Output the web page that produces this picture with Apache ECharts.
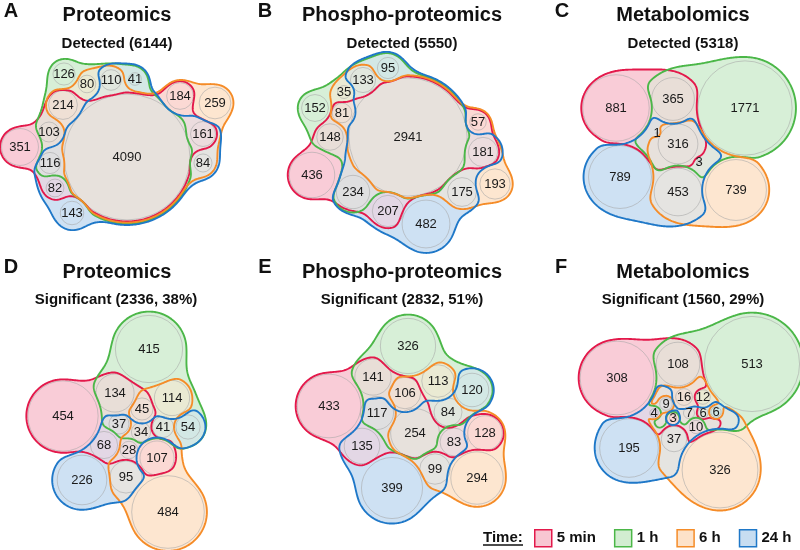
<!DOCTYPE html>
<html>
<head>
<meta charset="utf-8">
<script src="https://cdn.jsdelivr.net/npm/echarts@6/dist/echarts.min.js"></script>
<style>
html,body{margin:0;padding:0;background:#ffffff;}
#chart{width:800px;height:550px;}
</style>
</head>
<body>
<div id="chart"></div>
<script>
// ================= DATA =================
const SET_NAMES = ['5 min', '1 h', '6 h', '24 h'];
const SET_CODES = ['R', 'G', 'O', 'B']; // R = 5 min, G = 1 h, O = 6 h, B = 24 h

const PANEL_LETTERS = ['A', 'B', 'C', 'D', 'E', 'F'];
const PANEL_TITLES = ['Proteomics', 'Phospho-proteomics', 'Metabolomics', 'Proteomics', 'Phospho-proteomics', 'Metabolomics'];
const PANEL_SUBTITLES = ['Detected (6144)', 'Detected (5550)', 'Detected (5318)',
  'Significant (2336, 38%)', 'Significant (2832, 51%)', 'Significant (1560, 29%)'];

// region counts and the time points each region belongs to
const countsA = [4090, 351, 103, 116, 214, 126, 80, 110, 41, 184, 259, 161, 84, 82, 143];
const setsA   = ['RGOB','R','RG','RGB','RGO','G','GO','GOB','GB','RO','O','ROB','OB','RB','B'];

const countsB = [2941, 95, 133, 35, 152, 81, 148, 436, 234, 207, 482, 175, 193, 181, 57];
const setsB   = ['RGOB','GB','GOB','GO','G','RGO','RG','R','RGB','RB','B','OB','O','ROB','RO'];

const countsC = [881, 365, 1771, 316, 789, 453, 739, 1, 3];
const setsC   = ['R','RG','G','RGOB','B','OB','O','RGB','GOB'];

const countsD = [415, 134, 454, 45, 114, 37, 34, 41, 54, 68, 28, 107, 226, 95, 484];
const setsD   = ['G','RG','R','RGO','GO','RGB','RGOB','GOB','GB','RB','ROB','RO','B','OB','O'];

const countsE = [326, 141, 433, 106, 113, 120, 117, 84, 254, 83, 128, 135, 99, 294, 399];
const setsE   = ['G','RG','R','RGO','GO','GB','RGB','GOB','RGOB','ROB','RO','RB','OB','O','B'];

const countsF = [308, 108, 513, 16, 12, 9, 4, 7, 6, 6, 3, 10, 195, 37, 326];
const setsF   = ['R','RG','G','RGO','GO','RGB','RB','RGOB','GOB','GB','RO','ROB','B','OB','O'];

// ================= LAYOUT (positions in chart units) =================
const posA = [[127,157],[20,147],[49,132],[50,163],[63,105],[64,74],[87,84],[111,80],[135,79],[180,96],[215,103],[203,134],[203,163],[55,188],[72,213]];
const posB = [[408,137],[388,68],[363,80],[344,92],[315,108],[342,113],[330,137],[312,175],[353,192],[388,211],[426,224],[462,192],[495,184],[483,152],[478,122]];
const posC = [[616,108],[673,99],[745,108],[678,144],[620,177],[678,192],[736,190],[657,133],[699,162]];
const posD = [[149,349],[115,393],[63,416],[142,409],[172,398],[119,424],[141,432],[163,427],[188,427],[104,445],[129,450],[157,458],[82,480],[126,477],[168,512]];
const posE = [[408,346],[373,377],[329,406],[405,393],[438,381],[472,390],[377,413],[448,412],[415,433],[454,442],[485,433],[362,446],[435,469],[477,478],[392,488]];
const posF = [[617,378],[678,364],[752,364],[684,397],[703,397],[666,404],[654,413],[689,413],[703,413],[716,412],[673,418],[696,427],[629,448],[674,439],[720,470]];

const PANEL_SCALE = [0.985, 1.09, 1.12, 1.65, 1.53, 2.1];   // radius = scale * sqrt(count)
const PANEL_SMOOTH = [26, 26, 62, 32, 30, 52];
const TITLE_X = [117, 402, 683, 117, 402, 683];
const LETTER_X = [11, 265, 562, 11, 265, 561];

// ================= STYLE =================
const SET_COLORS = ['#E3194B', '#4BB748', '#F58C28', '#1F78C8'];
const PAD_IN  = [1.5, 3.8, 2.6, 5.0];
const PAD_OUT = [1.0, 2.6, 1.8, 3.4];
const EXCL_SMOOTH = 9;
const FONT = '"Liberation Sans", Arial, Helvetica, sans-serif';

const panels = [
  {counts: countsA, sets: setsA, pos: posA},
  {counts: countsB, sets: setsB, pos: posB},
  {counts: countsC, sets: setsC, pos: posC},
  {counts: countsD, sets: setsD, pos: posD},
  {counts: countsE, sets: setsE, pos: posE},
  {counts: countsF, sets: setsF, pos: posF}
];

function hexRgb(h) { return [parseInt(h.slice(1,3),16), parseInt(h.slice(3,5),16), parseInt(h.slice(5,7),16)]; }
function maskColor(mask, a) {
  let r = 0, g = 0, b = 0, n = 0;
  for (let s = 0; s < 4; s++) if ((mask >> s) & 1) { const c = hexRgb(SET_COLORS[s]); r += c[0]; g += c[1]; b += c[2]; n++; }
  r /= n; g /= n; b /= n;
  return 'rgb(' + Math.round(255*(1-a)+a*r) + ',' + Math.round(255*(1-a)+a*g) + ',' + Math.round(255*(1-a)+a*b) + ')';
}

function smin(a, b, k) { const h = Math.max(k - Math.abs(a - b), 0) / k; return Math.min(a, b) - h*h*k*0.25; }

function contour(vals, nx, ny, x0, y0, h) {
  const N = nx*ny, ins = new Uint8Array(N);
  for (let q = 0; q < N; q++) ins[q] = vals[q] < 0 ? 1 : 0;
  const next = new Map(), pts = new Map();
  function pt(i1, j1, i2, j2, key) {
    if (!pts.has(key)) {
      const a = vals[j1*nx+i1], b = vals[j2*nx+i2]; const t = a/(a-b);
      pts.set(key, [x0 + h*(i1 + t*(i2-i1)), y0 + h*(j1 + t*(j2-j1))]);
    }
    return key;
  }
  const L = [];
  for (let j = 0; j < ny-1; j++) for (let i = 0; i < nx-1; i++) {
    const a = ins[j*nx+i], b = ins[j*nx+i+1], c = ins[(j+1)*nx+i+1], d = ins[(j+1)*nx+i];
    const s = a+b+c+d; if (s === 0 || s === 4) continue;
    L.length = 0;
    if (a !== b) L.push([pt(i,j,i+1,j,(j*nx+i)*2), a === 1]);
    if (b !== c) L.push([pt(i+1,j,i+1,j+1,(j*nx+i+1)*2+1), b === 1]);
    if (c !== d) L.push([pt(i+1,j+1,i,j+1,((j+1)*nx+i)*2), c === 1]);
    if (d !== a) L.push([pt(i,j+1,i,j,(j*nx+i)*2+1), d === 1]);
    for (let k = 0; k < L.length; k++) if (L[k][1]) next.set(L[k][0], L[(k+1) % L.length][0]);
  }
  const loops = [], seen = new Set();
  for (const st of next.keys()) {
    if (seen.has(st)) continue;
    const loop = []; let cur = st;
    while (cur !== undefined && !seen.has(cur)) { seen.add(cur); loop.push(pts.get(cur)); cur = next.get(cur); }
    if (loop.length > 3) loops.push(loop);
  }
  return loops;
}

// build blobs and regions for every panel
const regionItems = [];   // {loops, color}
const strokeItems = [[], [], [], []];
const circleData = [];
panels.forEach((p, pi) => {
  const k = PANEL_SCALE[pi], K = PANEL_SMOOTH[pi];
  const circles = p.counts.map((c, i) => ({x: p.pos[i][0], y: p.pos[i][1], r: k*Math.sqrt(c), m: p.sets[i]}));
  p.counts.forEach((c, i) => circleData.push([p.pos[i][0], p.pos[i][1], c, pi]));
  let x0 = Infinity, y0 = Infinity, x1 = -Infinity, y1 = -Infinity;
  circles.forEach(c => { x0 = Math.min(x0, c.x-c.r); y0 = Math.min(y0, c.y-c.r); x1 = Math.max(x1, c.x+c.r); y1 = Math.max(y1, c.y+c.r); });
  x0 -= 30; y0 -= 30; x1 += 30; y1 += 30;
  const h = 1, nx = Math.ceil((x1-x0)/h)+1, ny = Math.ceil((y1-y0)/h)+1;
  const F = SET_CODES.map((code, si) => {
    const mem = circles.filter(c => c.m.indexOf(code) >= 0), non = circles.filter(c => c.m.indexOf(code) < 0);
    const arr = new Float32Array(nx*ny);
    for (let j = 0; j < ny; j++) for (let i = 0; i < nx; i++) {
      const x = x0 + i*h, y = y0 + j*h;
      let u = 1e9;
      for (const c of mem) { const d = Math.hypot(x-c.x, y-c.y) - c.r - PAD_IN[si]; u = smin(u, d, K); }
      for (const c of non) { const e = PAD_OUT[si] - (Math.hypot(x-c.x, y-c.y) - c.r); u = -smin(-u, -e, EXCL_SMOOTH); }
      if (i === 0 || j === 0 || i === nx-1 || j === ny-1) u = Math.max(u, 1);
      arr[j*nx+i] = u;
    }
    return arr;
  });
  F.forEach((arr, si) => strokeItems[si].push(contour(arr, nx, ny, x0, y0, h)));
  for (let mask = 1; mask < 16; mask++) {
    const arr = new Float32Array(nx*ny); let any = false;
    for (let q = 0; q < nx*ny; q++) {
      let v = -Infinity;
      for (let s = 0; s < 4; s++) { const t = ((mask >> s) & 1) ? F[s][q] : -F[s][q]; if (t > v) v = t; }
      arr[q] = v; if (v < 0) any = true;
    }
    if (any) regionItems.push({loops: contour(arr, nx, ny, x0, y0, h), color: maskColor(mask, 0.22)});
  }
});

function loopsPath(loops, api) {
  let s = '';
  for (const l of loops) {
    for (let i = 0; i < l.length; i++) { const c = api.coord(l[i]); s += (i ? 'L' : 'M') + c[0].toFixed(2) + ' ' + c[1].toFixed(2); }
    s += 'Z';
  }
  return s;
}

const chart = echarts.init(document.getElementById('chart'), null, {renderer: 'canvas'});

const series = [];
series.push({
  type: 'custom', name: 'regions', coordinateSystem: 'cartesian2d', z: 1, silent: true,
  data: regionItems.map((r, i) => [0, 0, i]),
  renderItem: function (params, api) {
    const it = regionItems[params.dataIndex];
    return {type: 'path', shape: {pathData: loopsPath(it.loops, api)},
      style: {fill: it.color, stroke: it.color, lineWidth: 0.6}};
  }
});
series.push({
  type: 'custom', name: 'circles', coordinateSystem: 'cartesian2d', z: 2, silent: true,
  data: circleData,
  renderItem: function (params, api) {
    const pi = api.value(3);
    const r = PANEL_SCALE[pi] * Math.sqrt(api.value(2));
    const c = api.coord([api.value(0), api.value(1)]);
    return {type: 'circle', shape: {cx: c[0], cy: c[1], r: api.size([r, 0])[0]},
      style: {fill: 'none', stroke: 'rgba(165,165,165,0.7)', lineWidth: 0.8}};
  }
});
SET_NAMES.forEach((name, si) => {
  series.push({
    type: 'custom', name: name, coordinateSystem: 'cartesian2d', z: 3 + si*0.01, silent: true,
    itemStyle: {color: SET_COLORS[si]},
    data: strokeItems[si].map((l, i) => [0, 0, i]),
    renderItem: function (params, api) {
      return {type: 'path', shape: {pathData: loopsPath(strokeItems[si][params.dataIndex], api)},
        style: {fill: 'none', stroke: SET_COLORS[si], lineWidth: 1.9}};
    }
  });
});
series.push({
  type: 'custom', name: 'labels', coordinateSystem: 'cartesian2d', z: 5, silent: true,
  data: circleData,
  renderItem: function (params, api) {
    const c = api.coord([api.value(0), api.value(1)]);
    return {type: 'text', x: c[0], y: c[1] + 0.5,
      style: {text: String(api.value(2)), align: 'center', verticalAlign: 'middle',
        font: '13px ' + FONT, fill: '#1a1a1a'}};
  }
});

const graphics = [];
for (let i = 0; i < 6; i++) {
  const top = i < 3;
  graphics.push({type: 'text', x: LETTER_X[i], y: top ? 11 : 267,
    style: {text: PANEL_LETTERS[i], align: 'center', verticalAlign: 'middle', font: 'bold 20px ' + FONT, fill: '#111'}});
  graphics.push({type: 'text', x: TITLE_X[i], y: top ? 15 : 272,
    style: {text: PANEL_TITLES[i], align: 'center', verticalAlign: 'middle', font: 'bold 20px ' + FONT, fill: '#111'}});
  graphics.push({type: 'text', x: TITLE_X[i] - (i === 3 ? 1 : 0), y: top ? 44 : 300,
    style: {text: PANEL_SUBTITLES[i], align: 'center', verticalAlign: 'middle', font: 'bold 15px ' + FONT, fill: '#111'}});
}
graphics.push({type: 'text', x: 483, y: 538,
  style: {text: 'Time:', align: 'left', verticalAlign: 'middle', font: 'bold 15px ' + FONT, fill: '#111'}});
graphics.push({type: 'line', shape: {x1: 483, y1: 545, x2: 523, y2: 545}, style: {stroke: '#111', lineWidth: 1.3}});

chart.setOption({
  animation: false,
  backgroundColor: '#ffffff',
  grid: {left: 0, right: 0, top: 0, bottom: 0},
  xAxis: {type: 'value', min: 0, max: 800, show: false},
  yAxis: {type: 'value', min: 0, max: 550, inverse: true, show: false},
  legend: {
    left: 534, top: 529, padding: 0, itemWidth: 17, itemHeight: 17, itemGap: 18, selectedMode: false,
    icon: 'rect',
    textStyle: {fontSize: 15, fontWeight: 'bold', fontFamily: FONT, color: '#111'},
    data: SET_NAMES.map((n, si) => ({name: n, icon: 'rect',
      itemStyle: {color: maskColor(1 << si, 0.25), borderColor: SET_COLORS[si], borderWidth: 1.5}}))
  },
  graphic: graphics,
  series: series
});
</script>
</body>
</html>
